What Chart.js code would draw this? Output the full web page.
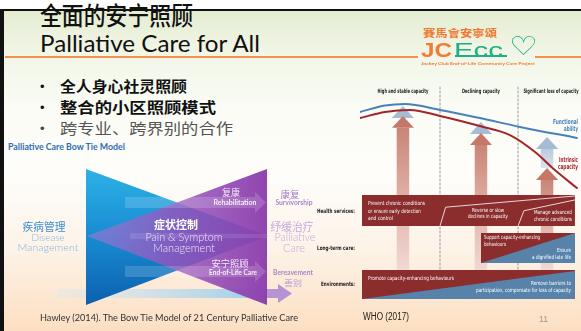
<!DOCTYPE html>
<html><head><meta charset="utf-8">
<script src="https://cdn.jsdelivr.net/npm/chart.js@4.4.1/dist/chart.umd.min.js"></script>
<style>
html,body{margin:0;padding:0}
body{width:581px;height:331px;overflow:hidden;position:relative;background:#fff}
#bg{position:absolute;left:0;top:10px;width:581px;height:321px;
 background:linear-gradient(to bottom,#e4edd1 0%,#f2f6e8 14%,#fafcf5 30%,#fefdfa 52%,#fdf3e8 74%,#fcdfc2 100%)}
.t{position:absolute;white-space:nowrap;line-height:1}
canvas{position:absolute}
.bar{position:absolute}
</style></head><body>
<div id="bg"></div>
<div class="bar" style="left:5px;top:56px;width:413px;height:2px;background:#f2914a"></div>
<div class="bar" style="left:535px;top:56px;width:46px;height:2px;background:#f2914a"></div>
<canvas id="bow" width="270" height="150" style="left:40px;top:160px;width:270px;height:150px"></canvas>
<canvas id="who" width="218" height="220" style="left:360px;top:84px;width:218px;height:220px"></canvas>
<div id="txt"></div>
<div class="bar" style="left:455px;top:55px;width:52px;height:1.5px;background:#1fae86"></div>
<div class="bar" style="left:2px;top:9px;width:579px;height:2px;background:#111"></div>
<div class="bar" style="left:0px;top:9px;width:4px;height:322px;background:#111"></div>
<script>
// ---------- WHO (2017) healthy ageing curves: life course 0..100, capacity 0..100 ----------
const faX = [0, 11.5, 20.6, 36.7, 55, 73.4, 99.5];
const functionalAbility = [87.3, 90.2, 90.9, 88.2, 84.5, 80.5, 75.5];
const icX = [0, 11.5, 22.9, 36.7, 55, 68.8, 80.3, 89.4, 99.5];
const intrinsicCapacity = [84.5, 87.3, 88.2, 85.5, 80.9, 76.8, 69.1, 60.9, 52.7];
const stageLabels = ['High and stable capacity', 'Declining capacity', 'Significant loss of capacity'];
const stageBounds = [36.7, 72.5];
const arrowX = [19.7, 55.5, 85.8];
const icArrowTip = [85.5, 77.7, 61.8];
const faArrowTip = [90.0, 82.7, 75.9];
const serviceRows = ['Health services:', 'Long-term care:', 'Environments:'];
const rowStart = [0.92, 55.5, 0.92];
const rowTop = [49.5, 32.3, 15.5];
const rowBottom = [35.5, 18.6, 2.3];
const rowBlueTop = [null, 32.3, 15.0];
// ---------- Bow tie model (diagram units) ----------
const bowLeftX = 46, bowRightX = 228, bowTopY = 9, bowBottomY = 145, bowMidY = 76;

const P = (x, y) => ({x, y});
const T0 = 'transparent';
function vg(stops, y0, y1) {
  return c => { const ch = c.chart, s = ch.scales.y; if (!s || !ch.chartArea) return stops[0][1];
    const g = ch.ctx.createLinearGradient(0, s.getPixelForValue(y0), 0, s.getPixelForValue(y1));
    stops.forEach(([o, col]) => g.addColorStop(o, col)); return g; };
}
function hg(stops, x0, x1) {
  return c => { const ch = c.chart, s = ch.scales.x; if (!s || !ch.chartArea) return stops[0][1];
    const g = ch.ctx.createLinearGradient(s.getPixelForValue(x0), 0, s.getPixelForValue(x1), 0);
    stops.forEach(([o, col]) => g.addColorStop(o, col)); return g; };
}
function rect(L, x0, x1, y0, y1, color) {
  L.push({data: [P(x0, y0), P(x1, y0)], borderWidth: 0, borderColor: T0, fill: {value: y1}, backgroundColor: color, clip: false});
}
function toBase(L, pts, base, color) {
  L.push({data: pts.map(p => P(p[0], p[1])), borderWidth: 0, borderColor: T0, fill: {value: base}, backgroundColor: color, clip: false});
}
function between(L, up, lo, color) {
  L.push({data: up.map(p => P(p[0], p[1])), borderWidth: 0, borderColor: T0, fill: '+1', backgroundColor: color, clip: false});
  L.push({data: lo.map(p => P(p[0], p[1])), borderWidth: 0, borderColor: T0, fill: false, clip: false});
}
function stroke(L, pts, color, w, dash, tension) {
  L.push({data: pts.map(p => P(p[0], p[1])), borderWidth: w, borderColor: color, borderDash: dash || [], fill: false,
    tension: tension || 0, cubicInterpolationMode: tension ? 'monotone' : 'default', clip: false, borderCapStyle: 'round'});
}
function mk(id, xr, yr, rev, L) {
  L.forEach((d, i) => { d.order = L.length - i; d.pointRadius = 0; });
  return new Chart(document.getElementById(id), {
    type: 'line', data: {datasets: L},
    options: {responsive: false, animation: false, events: [], layout: {padding: 0},
      scales: {x: {type: 'linear', min: xr[0], max: xr[1], display: false},
               y: {type: 'linear', min: yr[0], max: yr[1], reverse: rev, display: false}},
      plugins: {legend: {display: false}, tooltip: {enabled: false}},
      elements: {point: {radius: 0, hoverRadius: 0}}}
  });
}

// ---------- Bow tie ----------
const B = [];
rect(B, 17, 230, 129, 138, hg([[0, 'rgba(205,232,248,0.25)'], [1, 'rgba(140,200,240,0.9)']], 17, 230));
rect(B, 225, 238, 129, 138, '#b893d3');
between(B, [[238, 124], [252, 133.5]], [[238, 143], [252, 133.5]], '#b893d3');
between(B, [[bowLeftX, bowTopY], [bowRightX, bowMidY]], [[bowLeftX, bowBottomY], [bowRightX, bowMidY]],
  vg([[0, '#2db2e6'], [0.45, '#1a8fd4'], [1, '#0c60ae']], bowTopY, bowBottomY));
between(B, [[bowLeftX + 1, bowMidY], [bowRightX - 1, bowTopY]], [[bowLeftX + 1, bowMidY], [bowRightX - 1, bowBottomY]],
  hg([[0, 'rgba(170,120,215,0.55)'], [0.45, 'rgba(150,85,190,0.82)'], [1, 'rgba(140,62,172,0.97)']], bowLeftX, bowRightX));
between(B, [[90, bowMidY - 3], [bowRightX - 1, bowMidY - 2]], [[90, bowMidY + 3], [bowRightX - 1, bowMidY + 2]], 'rgba(255,255,255,0.10)');
rect(B, 85, 215, 37, 48, 'rgba(255,255,255,0.16)');
between(B, [[215, 32], [226, 42.5]], [[215, 53], [226, 42.5]], 'rgba(255,255,255,0.16)');
rect(B, 85, 215, 106, 117, 'rgba(255,255,255,0.16)');
between(B, [[215, 101], [226, 111.5]], [[215, 122], [226, 111.5]], 'rgba(255,255,255,0.16)');
mk('bow', [0, 270], [0, 150], true, B);

// ---------- WHO chart ----------
const W = [];
stageBounds.forEach(x => stroke(W, [[x, 98.6], [x, 15.5]], '#9c9c9c', 1, [2, 2]));
const hw = 2.98, hh = 5.05, headH = 5.4;
arrowX.forEach((x, i) => {
  const base = faArrowTip[i] - headH;
  rect(W, x - hw, x + hw, base, icArrowTip[i], vg([[0, '#b9cadb'], [1, '#dbe4ec']], base, icArrowTip[i]));
  toBase(W, [[x - hh, base], [x, faArrowTip[i]], [x + hh, base]], base, '#a6bcd4');
});
arrowX.forEach((x, i) => {
  const base = icArrowTip[i] - headH;
  rect(W, x - hw, x + hw, base, 15.5, vg([[0, '#c98577'], [0.55, '#e3b6ac'], [1, '#f0d9d3']], base, 15.5));
  toBase(W, [[x - hh, base], [x, icArrowTip[i]], [x + hh, base]], base, '#c57868');
});
serviceRows.forEach((r, i) => {
  rect(W, rowStart[i], 98.6, rowTop[i], rowBottom[i], '#8b2c2d');
  if (rowBlueTop[i] !== null) toBase(W, [[rowStart[i], rowBottom[i]], [98.6, rowBlueTop[i]]], rowBottom[i], '#5783aa');
});
stroke(W, [[36.7, 35.5], [39.3, 44.0], [98.6, 49.1]], '#ffffff', 0.8);
stroke(W, [[72.5, 35.5], [75.2, 42.4], [98.6, 47.3]], '#ffffff', 0.8);
stroke(W, faX.map((x, i) => [x, functionalAbility[i]]), '#4a80b8', 2, null, 0.4);
stroke(W, icX.map((x, i) => [x, intrinsicCapacity[i]]), '#a3252b', 2, null, 0.4);
mk('who', [0, 100], [0, 100], false, W);

// ---------- Texts ----------
const CJK = '"Noto Sans CJK SC"', TC = '"Noto Sans CJK TC"', LAT = 'Lato', CON = '"DejaVu Sans Condensed"', ARI = '"Liberation Sans"';
const texts = [
  ['全面的安宁照顾', 40, 15, 153, 25, CJK, 500, '#111', 'l'],
  ['Palliative Care for All', 40, 43.5, 220, 23, LAT, 400, '#111', 'l'],
  ['•', 40, 87, null, 13, ARI, 400, '#111', 'l'],
  ['•', 40, 108, null, 13, ARI, 400, '#111', 'l'],
  ['•', 40, 129, null, 13, ARI, 400, '#444', 'l'],
  ['全人身心社灵照顾', 60, 86, 127, 15, CJK, 700, '#111', 'l'],
  ['整合的小区照顾模式', 60, 107, 156, 15, CJK, 700, '#111', 'l'],
  ['跨专业、跨界别的合作', 60, 128, 173, 15, CJK, 400, '#555', 'l'],
  ['Palliative Care Bow Tie Model', 8, 147, 117, 9, LAT, 700, '#2f6db3', 'l'],
  ['疾病管理', 43.5, 227, 43, 11, CJK, 400, '#3d8fd6', 'c'],
  ['Disease', 48, 237, 33, 10.5, LAT, 300, '#86b5e0', 'c'],
  ['Management', 47.5, 247.5, 61, 10.5, LAT, 300, '#86b5e0', 'c'],
  ['症状控制', 176, 225, 44, 11, CJK, 700, '#ffffff', 'c'],
  ['Pain & Symptom', 183.5, 237, 77, 11, LAT, 300, '#efe3f7', 'c'],
  ['Management', 184, 247.5, 62, 11, LAT, 300, '#efe3f7', 'c'],
  ['复康', 231, 193, 18, 9, CJK, 400, '#f3e9f8', 'c'],
  ['Rehabilitation', 234.5, 203, 43, 6.5, LAT, 700, '#f6eef9', 'c'],
  ['安宁照顾', 229.5, 264, 37, 9.5, CJK, 400, '#f3e9f8', 'c'],
  ['End-of-Life Care', 233, 273, 48, 6.5, LAT, 700, '#f6eef9', 'c'],
  ['康复', 289.5, 195, 19, 9, CJK, 400, '#a77fc6', 'c'],
  ['Survivorship', 293.5, 203, 37, 6.5, LAT, 700, '#a985c8', 'c'],
  ['纾缓治疗', 291.5, 227, 43, 11, CJK, 400, '#c8a8de', 'c'],
  ['Palliative', 294.5, 237, 41, 11, LAT, 300, '#c8a8de', 'c'],
  ['Care', 294, 247.5, 22, 11, LAT, 300, '#c8a8de', 'c'],
  ['Bereavement', 293, 273, 40, 6.5, LAT, 700, '#a985c8', 'c'],
  ['善别', 293, 282, 18, 8.5, CJK, 400, '#c0a0d8', 'c'],
  ['Hawley (2014). The Bow Tie Model of 21 Century Palliative Care', 40, 317, 258, 10, LAT, 400, '#333', 'l'],
  [stageLabels[0], 402.5, 91, 51, 6, CON, 700, '#222', 'c'],
  [stageLabels[1], 481, 91, 38, 6, CON, 700, '#222', 'c'],
  [stageLabels[2], 550.5, 91, 55, 6, CON, 700, '#222', 'c'],
  ['Functional', 578, 123, 25, 7, CON, 700, '#4a80b8', 'r'],
  ['ability', 578, 130, 14, 7, CON, 700, '#4a80b8', 'r'],
  ['Intrinsic', 578, 161, 19, 7, CON, 700, '#a3252b', 'r'],
  ['capacity', 578, 168, 20, 7, CON, 700, '#a3252b', 'r'],
  [serviceRows[0], 355, 211, 38, 6, CON, 700, '#222', 'r'],
  [serviceRows[1], 355, 248, 38, 6, CON, 700, '#222', 'r'],
  [serviceRows[2], 355, 284, 34, 6, CON, 700, '#222', 'r'],
  ['Prevent chronic conditions', 368, 204, 57, 5.6, CON, 400, '#fff', 'l'],
  ['or ensure early detection', 368, 211.5, 53, 5.6, CON, 400, '#fff', 'l'],
  ['and control', 368, 218.5, 25, 5.6, CON, 400, '#fff', 'l'],
  ['Reverse or slow', 488, 210.5, 32, 5.6, CON, 400, '#fff', 'c'],
  ['declines in capacity', 488, 217, 40, 5.6, CON, 400, '#fff', 'c'],
  ['Manage advanced', 552.5, 213, 38, 5.6, CON, 400, '#fff', 'c'],
  ['chronic conditions', 552.5, 220, 38, 5.6, CON, 400, '#fff', 'c'],
  ['Support capacity-enhancing', 484, 238, 56, 5.6, CON, 400, '#fff', 'l'],
  ['behaviours', 484, 245, 22, 5.6, CON, 400, '#fff', 'l'],
  ['Ensure', 571, 251, 14, 5.6, CON, 400, '#fff', 'r'],
  ['a dignified late life', 571, 257.5, 39, 5.6, CON, 400, '#fff', 'r'],
  ['Promote capacity-enhancing behaviours', 368, 279, 86, 5.6, CON, 400, '#fff', 'l'],
  ['Remove barriers to', 571, 284, 40, 5.6, CON, 400, '#fff', 'r'],
  ['participation, compensate for loss of capacity', 571, 290.5, 95, 5.6, CON, 400, '#fff', 'r'],
  ['WHO (2017)', 363, 317, 46, 10, ARI, 400, '#222', 'l'],
  ['11', 539, 320, 9, 9, ARI, 400, '#999', 'l'],
  ['賽馬會安寧頌', 423, 33, 74, 10, TC, 700, '#f07a32', 'l'],
  ['JC', 421, 49.5, 31, 21, ARI, 700, '#f47b30', 'l'],
  ['Ecc', 454, 49.5, 49, 21, ARI, 400, '#1fae86', 'l'],
  ['♡', 509, 47, 29, 26, '"DejaVu Sans"', 700, '#1fae86', 'l'],
  ['Jockey Club End-of-Life Community Care Project', 478, 64, 114, 4.5, LAT, 700, '#f07a32', 'c']
];
const box = document.getElementById('txt');
const els = texts.map(s => {
  const [t, x, y, w, size, fam, wt, col] = s;
  const d = document.createElement('div');
  d.className = 't'; d.textContent = t;
  d.style.fontFamily = fam; d.style.fontSize = size + 'px'; d.style.fontWeight = wt; d.style.color = col;
  d.style.left = x + 'px'; d.style.top = (y - size * 0.52) + 'px';
  box.appendChild(d); return d;
});
function fit() {
  els.forEach((d, i) => {
    const s = texts[i], w = s[3], al = s[8];
    d.style.transform = 'none';
    const nat = d.getBoundingClientRect().width;
    const k = w ? w / nat : 1;
    if (al === 'l') { d.style.transformOrigin = '0 0'; d.style.transform = `scaleX(${k})`; }
    else if (al === 'c') { d.style.transformOrigin = '50% 0'; d.style.transform = `translateX(-50%) scaleX(${k})`; }
    else { d.style.transformOrigin = '100% 0'; d.style.transform = `translateX(-100%) scaleX(${k})`; }
  });
}
fit();
if (document.fonts && document.fonts.ready) document.fonts.ready.then(fit);
</script>
</body></html>
